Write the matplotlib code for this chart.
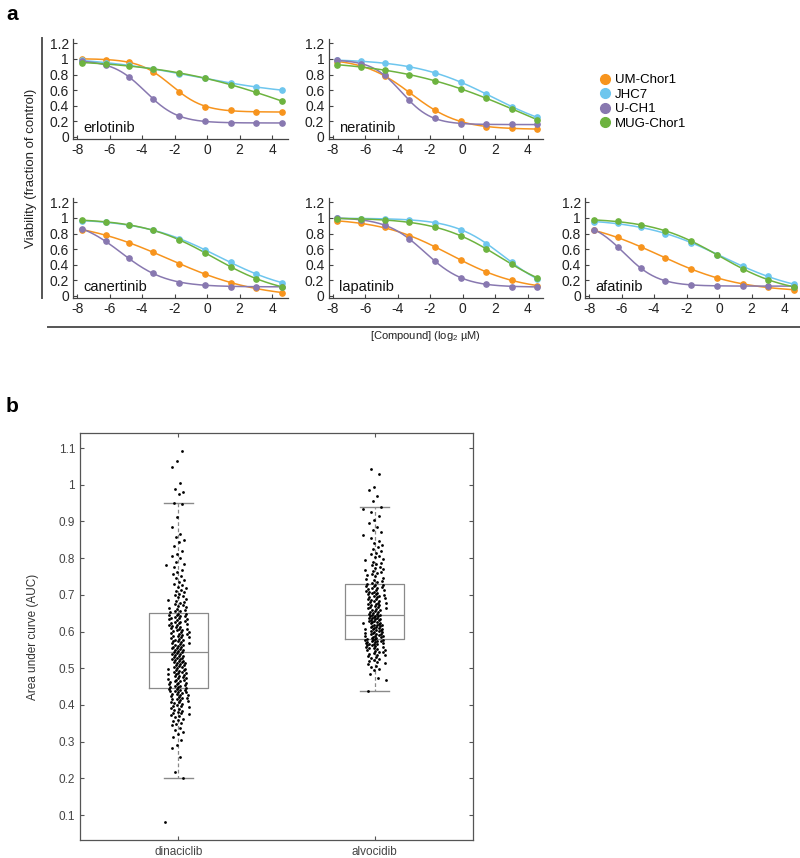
import numpy as np
import matplotlib
matplotlib.use("Agg")
import matplotlib.pyplot as plt
from matplotlib.lines import Line2D

plt.rcParams['font.family'] = ['Liberation Sans', 'DejaVu Sans']
plt.rcParams['mathtext.fontset'] = 'custom'
plt.rcParams['mathtext.rm'] = 'Liberation Sans'
plt.rcParams['axes.unicode_minus'] = False

# ---------------- data: panel a ----------------
log_conc = [-7.7, -6.25, -4.8, -3.3, -1.7, -0.1, 1.47, 3.03, 4.6]
cell_lines = ["UM-Chor1", "JHC7", "U-CH1", "MUG-Chor1"]
line_colors = ["#F7941D", "#6EC6EE", "#8878B0", "#6DB33F"]

erlotinib = {
    "UM-Chor1": [1.00, 0.99, 0.96, 0.83, 0.58, 0.39, 0.34, 0.32, 0.32],
    "JHC7": [0.98, 0.95, 0.92, 0.87, 0.81, 0.75, 0.69, 0.64, 0.60],
    "U-CH1": [0.97, 0.92, 0.77, 0.48, 0.27, 0.20, 0.18, 0.18, 0.18],
    "MUG-Chor1": [0.95, 0.94, 0.91, 0.87, 0.82, 0.75, 0.67, 0.57, 0.46],
}
neratinib = {
    "UM-Chor1": [0.96, 0.92, 0.78, 0.57, 0.35, 0.20, 0.13, 0.11, 0.10],
    "JHC7": [0.98, 0.97, 0.95, 0.90, 0.82, 0.70, 0.55, 0.39, 0.25],
    "U-CH1": [0.98, 0.94, 0.79, 0.47, 0.24, 0.17, 0.16, 0.16, 0.16],
    "MUG-Chor1": [0.92, 0.90, 0.86, 0.80, 0.72, 0.61, 0.50, 0.36, 0.22],
}
canertinib = {
    "UM-Chor1": [0.85, 0.78, 0.68, 0.56, 0.41, 0.28, 0.17, 0.10, 0.04],
    "JHC7": [0.96, 0.95, 0.91, 0.84, 0.73, 0.59, 0.43, 0.28, 0.17],
    "U-CH1": [0.86, 0.70, 0.48, 0.29, 0.17, 0.14, 0.12, 0.12, 0.12],
    "MUG-Chor1": [0.97, 0.95, 0.91, 0.84, 0.72, 0.55, 0.37, 0.22, 0.12],
}
lapatinib = {
    "UM-Chor1": [0.96, 0.93, 0.88, 0.77, 0.63, 0.46, 0.31, 0.20, 0.13],
    "JHC7": [1.00, 0.99, 0.99, 0.97, 0.94, 0.85, 0.67, 0.43, 0.22],
    "U-CH1": [1.00, 0.97, 0.91, 0.73, 0.45, 0.23, 0.15, 0.12, 0.12],
    "MUG-Chor1": [0.99, 0.99, 0.97, 0.95, 0.88, 0.77, 0.60, 0.41, 0.23],
}
afatinib = {
    "UM-Chor1": [0.84, 0.75, 0.63, 0.48, 0.35, 0.23, 0.15, 0.11, 0.08],
    "JHC7": [0.95, 0.93, 0.88, 0.80, 0.68, 0.53, 0.38, 0.25, 0.15],
    "U-CH1": [0.85, 0.63, 0.36, 0.19, 0.14, 0.13, 0.13, 0.13, 0.12],
    "MUG-Chor1": [0.97, 0.96, 0.91, 0.83, 0.70, 0.53, 0.35, 0.20, 0.12],
}
drug_names = ["erlotinib", "neratinib", "canertinib", "lapatinib", "afatinib"]
drug_data = [erlotinib, neratinib, canertinib, lapatinib, afatinib]

x_ticks = [-8, -6, -4, -2, 0, 2, 4]
y_ticks = [0, 0.2, 0.4, 0.6, 0.8, 1, 1.2]
y_ticklabels = ["0", "0.2", "0.4", "0.6", "0.8", "1", "1.2"]

# ---------------- data: panel b ----------------
box_groups = ["dinaciclib", "alvocidib"]
box_q1 = [0.445, 0.580]
box_med = [0.545, 0.645]
box_q3 = [0.650, 0.730]
box_lo = [0.201, 0.437]
box_hi = [0.950, 0.940]

dinaciclib_auc = [
    0.082, 0.201, 0.216, 0.259, 0.283, 0.291, 0.304, 0.312, 0.321, 0.327, 0.333, 0.338, 0.344, 0.349,
    0.351, 0.356, 0.359, 0.363, 0.366, 0.369, 0.372, 0.374, 0.377, 0.379, 0.382, 0.384, 0.387, 0.389,
    0.391, 0.394, 0.396, 0.398, 0.401, 0.403, 0.405, 0.407, 0.409, 0.411, 0.413, 0.415, 0.417, 0.418,
    0.420, 0.422, 0.424, 0.426, 0.427, 0.429, 0.431, 0.432, 0.434, 0.435, 0.437, 0.438, 0.440, 0.441,
    0.443, 0.444,
    0.446, 0.448, 0.449, 0.451, 0.452, 0.454, 0.456, 0.457, 0.459, 0.461, 0.462, 0.464, 0.466, 0.467,
    0.469, 0.471, 0.473, 0.474, 0.476, 0.478, 0.479, 0.481, 0.483, 0.484, 0.486, 0.488, 0.489, 0.491,
    0.493, 0.494, 0.496, 0.498, 0.499, 0.501, 0.503, 0.504, 0.506, 0.508, 0.509, 0.511, 0.513, 0.514,
    0.516, 0.518, 0.519, 0.521, 0.523, 0.524, 0.526, 0.528, 0.529, 0.531, 0.533, 0.534, 0.536, 0.538,
    0.539, 0.541, 0.543, 0.544,
    0.547, 0.549, 0.550, 0.552, 0.554, 0.556, 0.557, 0.559, 0.561, 0.563, 0.564, 0.566, 0.568, 0.570,
    0.571, 0.573, 0.575, 0.577, 0.578, 0.580, 0.582, 0.584, 0.585, 0.587, 0.589, 0.591, 0.592, 0.594,
    0.596, 0.598, 0.599, 0.601, 0.603, 0.605, 0.606, 0.608, 0.610, 0.612, 0.613, 0.615, 0.617, 0.619,
    0.620, 0.622, 0.624, 0.626, 0.627, 0.629, 0.631, 0.633, 0.634, 0.636, 0.638, 0.640, 0.641, 0.643,
    0.645, 0.646, 0.648, 0.649,
    0.652, 0.655, 0.657, 0.660, 0.662, 0.665, 0.667, 0.670, 0.672, 0.675, 0.678, 0.681, 0.684, 0.687,
    0.690, 0.693, 0.696, 0.700, 0.703, 0.707, 0.710, 0.714, 0.718, 0.722, 0.726, 0.730, 0.735, 0.740,
    0.745, 0.750, 0.756, 0.762, 0.768, 0.775, 0.780, 0.785, 0.790, 0.800, 0.806, 0.812, 0.820, 0.832,
    0.843, 0.850, 0.858, 0.866, 0.884, 0.912, 0.948, 0.951, 0.975, 0.981, 0.989, 1.004, 1.048, 1.066,
    1.093,
]
alvocidib_auc = [
    0.437, 0.468, 0.474, 0.485, 0.494, 0.499, 0.503, 0.507, 0.511, 0.514, 0.517, 0.520, 0.523, 0.526,
    0.528, 0.531, 0.533, 0.535, 0.537, 0.539, 0.541, 0.543, 0.545, 0.547, 0.549, 0.551, 0.552, 0.554,
    0.556, 0.557, 0.559, 0.560, 0.562, 0.563, 0.565, 0.566, 0.567, 0.569, 0.570, 0.571, 0.572, 0.573,
    0.574, 0.575, 0.576, 0.577, 0.578, 0.579,
    0.581, 0.582, 0.583, 0.584, 0.586, 0.587, 0.588, 0.589, 0.591, 0.592, 0.593, 0.594, 0.596, 0.597,
    0.598, 0.599, 0.601, 0.602, 0.603, 0.604, 0.606, 0.607, 0.608, 0.609, 0.611, 0.612, 0.613, 0.614,
    0.616, 0.617, 0.618, 0.619, 0.621, 0.622, 0.623, 0.624, 0.626, 0.627, 0.628, 0.629, 0.631, 0.632,
    0.633, 0.634, 0.636, 0.637, 0.638, 0.639, 0.641, 0.642, 0.643, 0.644,
    0.646, 0.648, 0.649, 0.651, 0.653, 0.654, 0.656, 0.658, 0.659, 0.661, 0.663, 0.664, 0.666, 0.668,
    0.669, 0.671, 0.673, 0.674, 0.676, 0.678, 0.679, 0.681, 0.683, 0.684, 0.686, 0.688, 0.689, 0.691,
    0.693, 0.694, 0.696, 0.698, 0.699, 0.701, 0.703, 0.704, 0.706, 0.708, 0.709, 0.711, 0.713, 0.714,
    0.716, 0.718, 0.719, 0.721, 0.723, 0.724, 0.726, 0.728, 0.729,
    0.732, 0.735, 0.738, 0.741, 0.744, 0.747, 0.750, 0.753, 0.756, 0.759, 0.762, 0.765, 0.768, 0.771,
    0.774, 0.777, 0.780, 0.783, 0.786, 0.790, 0.794, 0.798, 0.802, 0.806, 0.810, 0.815, 0.820, 0.825,
    0.830, 0.836, 0.842, 0.848, 0.855, 0.862, 0.870, 0.878, 0.886, 0.895, 0.905, 0.915, 0.925, 0.935,
    0.940, 0.955, 0.970, 0.985, 0.993, 1.030, 1.043,
]
box_ticks = [0.1, 0.2, 0.3, 0.4, 0.5, 0.6, 0.7, 0.8, 0.9, 1.0, 1.1]
box_ticklabels = ["0.1", "0.2", "0.3", "0.4", "0.5", "0.6", "0.7", "0.8", "0.9", "1", "1.1"]


def fit_4pl(x, y):
    """Least-squares fit of a 4-parameter logistic (grid over centre/slope)."""
    x = np.asarray(x, float)
    y = np.asarray(y, float)
    cs = np.arange(-12, 10, 0.04)
    hs = np.arange(0.2, 4.0, 0.02)
    C, H = np.meshgrid(cs, hs, indexing="ij")
    f = 1.0 / (1.0 + np.exp(H[..., None] * (x - C[..., None])))
    g = 1.0 - f
    Sff = (f * f).sum(-1); Sgg = (g * g).sum(-1); Sfg = (f * g).sum(-1)
    Sfy = (f * y).sum(-1); Sgy = (g * y).sum(-1)
    det = Sff * Sgg - Sfg ** 2
    with np.errstate(divide="ignore", invalid="ignore"):
        top = (Sfy * Sgg - Sgy * Sfg) / det
        bot = (Sgy * Sff - Sfy * Sfg) / det
        res = ((top[..., None] * f + bot[..., None] * g - y) ** 2).sum(-1)
    res = np.where(np.isfinite(res), res, np.inf)
    i, j = np.unravel_index(np.argmin(res), res.shape)
    return top[i, j], bot[i, j], cs[i], hs[j]


W, Hh = 800, 858
fig = plt.figure(figsize=(W / 100, Hh / 100), dpi=100)


def fig_rect(x0, y0, x1, y1):
    return [x0 / W, 1 - y1 / Hh, (x1 - x0) / W, (y1 - y0) / Hh]


xlim = (-8.25, 4.95)
ylim = (-0.03, 1.25)
col_left = [73, 328.5, 585]
row_top = [39.4, 198.4]
ax_w = 214.5
ax_h = 99.9
positions = [(0, 0), (0, 1), (1, 0), (1, 1), (1, 2)]

xs_fine = np.linspace(log_conc[0], log_conc[-1], 200)
axis_gray = "#444444"

for name, data, (r, c) in zip(drug_names, drug_data, positions):
    x0 = col_left[c]
    y0 = row_top[r]
    ax = fig.add_axes(fig_rect(x0, y0, x0 + ax_w, y0 + ax_h))
    for cl, col in zip(cell_lines, line_colors):
        yv = data[cl]
        top, bot, cc, hh = fit_4pl(log_conc, yv)
        yfit = bot + (top - bot) / (1 + np.exp(hh * (xs_fine - cc)))
        ax.plot(xs_fine, yfit, color=col, lw=1.1, zorder=2)
        ax.plot(log_conc, yv, "o", color=col, ms=3.8, mec=col, zorder=3)
    ax.set_xlim(*xlim)
    ax.set_ylim(*ylim)
    ax.set_xticks(x_ticks)
    ax.set_yticks(y_ticks)
    ax.set_yticklabels(y_ticklabels)
    for s in ["top", "right"]:
        ax.spines[s].set_visible(False)
    for s in ["left", "bottom"]:
        ax.spines[s].set_color(axis_gray)
        ax.spines[s].set_linewidth(0.9)
    ax.tick_params(direction="in", length=3, width=0.8, colors=axis_gray,
                   labelsize=10, labelcolor="#222222", pad=3)
    ax.text(0.05, 0.11, name, transform=ax.transAxes, fontsize=10.5,
            color="#111111", va="center", ha="left")

# Figure-level decorations panel a
fig.add_artist(Line2D([42 / W, 42 / W], [1 - 38 / Hh, 1 - 298 / Hh],
                      color="#555555", lw=1.4))
fig.add_artist(Line2D([48 / W, 1.0], [1 - 327 / Hh, 1 - 327 / Hh],
                      color="#555555", lw=1.4))
fig.text(31 / W, 1 - 168 / Hh, "Viability (fraction of control)", rotation=90,
         ha="center", va="center", fontsize=9.5, color="#222222")
fig.text(425 / W, 1 - 336 / Hh, r"[Compound] (log$_2$ µM)", ha="center",
         va="center", fontsize=8, color="#222222")
fig.text(6 / W, 1 - 14 / Hh, "a", fontsize=15, fontweight="bold", va="center")
fig.text(6 / W, 1 - 407 / Hh, "b", fontsize=15, fontweight="bold", va="center")

handles = [Line2D([], [], marker="o", ls="none", color=c, ms=7, mec=c)
           for c in line_colors]
fig.legend(handles, cell_lines, loc="upper left",
           bbox_to_anchor=(600 / W, 1 - 74 / Hh), frameon=False, fontsize=9.5,
           handlelength=0.8, handletextpad=0.35, labelspacing=0.18,
           borderpad=0, borderaxespad=0)

# ---------------- panel b ----------------
axb = fig.add_axes(fig_rect(80, 433, 473, 840))
box_gray = "#8a8a8a"
stats = []
for i, g in enumerate(box_groups):
    stats.append(dict(label=g, q1=box_q1[i], med=box_med[i], q3=box_q3[i],
                      whislo=box_lo[i], whishi=box_hi[i], fliers=[]))
axb.bxp(stats, positions=[1, 2], widths=0.3, showfliers=False,
        boxprops=dict(color=box_gray, lw=0.9),
        medianprops=dict(color=box_gray, lw=0.9),
        whiskerprops=dict(color=box_gray, lw=0.9, ls=(0, (3, 2))),
        capprops=dict(color=box_gray, lw=1.0), capwidths=0.15, zorder=1)

golden = 0.6180339887
silver = 0.7548776662
for i, vals in enumerate([dinaciclib_auc, alvocidib_auc]):
    n = len(vals)
    k = np.arange(n)
    f1 = (k * golden + 0.37 * i) % 1.0
    f2 = (k * silver + 0.11 * i) % 1.0
    jitter = (f1 + f2 - 1.0) * 0.065
    axb.scatter(np.full(n, i + 1) + jitter, vals, s=4, color="black",
                linewidths=0, zorder=3)

axb.set_xlim(0.5, 2.5)
axb.set_ylim(0.032, 1.141)
axb.set_yticks(box_ticks)
axb.set_yticklabels(box_ticklabels)
axb.set_xticks([1, 2])
axb.set_xticklabels(box_groups)
for s in axb.spines.values():
    s.set_color("#555555")
    s.set_linewidth(0.9)
axb.tick_params(direction="in", length=3, width=0.8, colors="#555555",
                labelsize=8.5, labelcolor="#444444", top=True, right=True)
axb.tick_params(axis="x", pad=4)
axb.set_ylabel("Area under curve (AUC)", fontsize=8.5, color="#333333", labelpad=14)

fig.savefig("out.png", dpi=100)
